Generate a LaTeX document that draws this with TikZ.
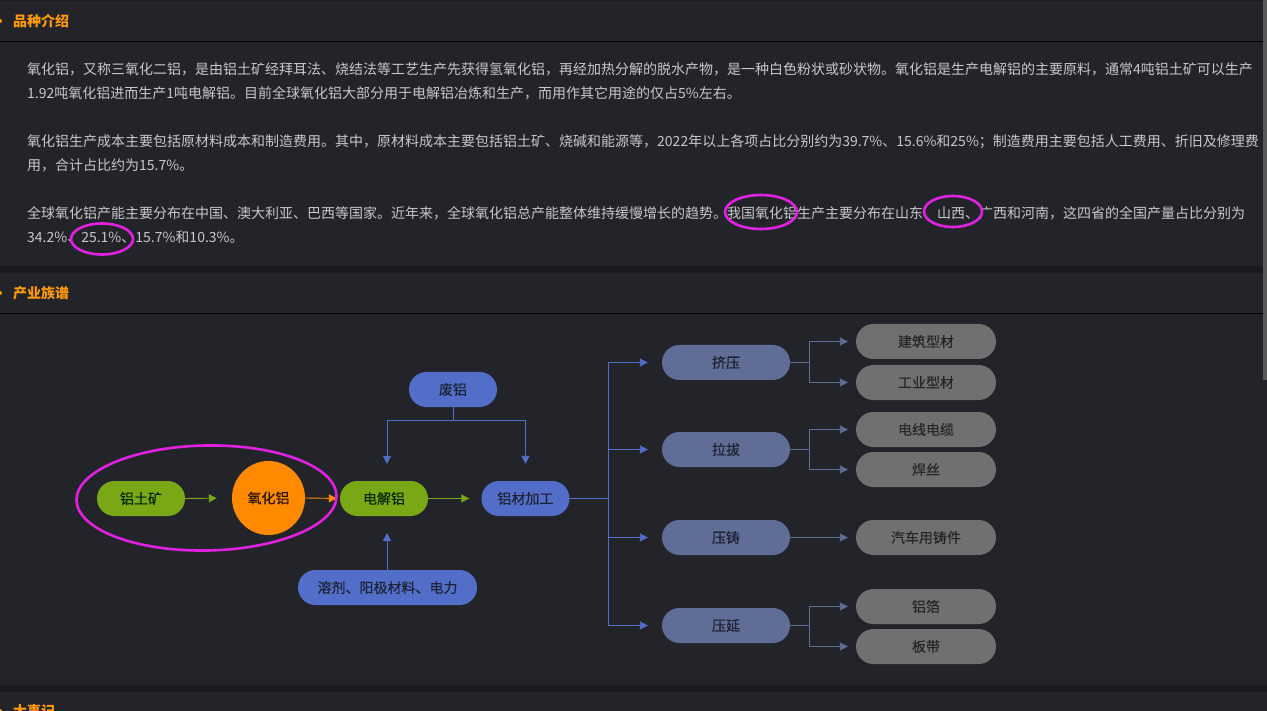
\documentclass[tikz,border=0pt]{standalone}
\usepackage{fontspec}
\setmainfont{Noto Sans CJK SC}
\newfontfamily\lblfont[FakeBold=0.25]{Noto Sans CJK SC}
\usetikzlibrary{shapes.geometric,arrows.meta}
\definecolor{bgc}{HTML}{23242A}
\definecolor{band}{HTML}{1A1B1F}
\definecolor{txt}{HTML}{C8C8C8}
\definecolor{ttl}{HTML}{FF9A0E}
\definecolor{bluen}{HTML}{526EC9}
\definecolor{dimn}{HTML}{5F6D97}
\definecolor{grayn}{HTML}{707070}
\definecolor{greenn}{HTML}{7AA716}
\definecolor{orangen}{HTML}{FF8A00}
\definecolor{mag}{HTML}{E022E0}
\definecolor{darkt}{HTML}{1C2233}
\definecolor{grayt}{HTML}{262626}
\tikzset{
 x=1pt,y=-1pt,
 para/.style={anchor=base west,inner sep=0pt,text=txt,font=\fontsize{14}{16}\selectfont},
 sect/.style={anchor=base west,inner sep=0pt,text=ttl,font=\fontsize{14}{16}\selectfont\bfseries},
 pill/.style={rounded rectangle sim,minimum height=35pt,inner sep=0pt,font=\lblfont\fontsize{14}{16}\selectfont,text=darkt},
 rounded rectangle sim/.style={rectangle,rounded corners=17.4pt},
 bluepill/.style={pill,fill=bluen,minimum width=88pt},
 greenpill/.style={pill,fill=greenn,minimum width=88pt,text=black!85!green},
 dimpill/.style={pill,fill=dimn,minimum width=128pt},
 graypill/.style={pill,fill=grayn,minimum width=140pt,text=grayt},
 ring/.style={ellipse,draw=mag,line width=2.6pt,inner sep=0pt},
 link/.style={line width=0.9pt,color=bluen},
 dimlink/.style={line width=0.9pt,color=dimn},
 tip/.style={-{Triangle[length=8pt,width=8pt]},shorten >=#1},
 tip/.default=0pt
}
\begin{document}
\begin{tikzpicture}
\useasboundingbox (0,0) rectangle (1267,711);
\fill[bgc] (0,0) rectangle (1267,711);
\fill[band] (0,266) rectangle (1263,273);
\fill[band] (0,685) rectangle (1267,692);
\draw[black,line width=0.9pt] (0,41.5) -- (1263,41.5);
\draw[black,line width=0.9pt] (0,313.5) -- (1263,313.5);
\draw[band,line width=0.9pt] (0,0.5) -- (1263,0.5);
\fill[gray!70!black] (1263,0) rectangle (1267,380);
\fill[ttl] (0,21) circle (2);
\fill[ttl] (0,293) circle (2);
\fill[ttl] (0,711) circle (2);
% headings
\node[sect] (h1) at (13,26.5) {品种介绍};
\node[sect] (h2) at (13,298.5) {产业族谱};
\node[sect] (h3) at (13,716.5) {大事记};
% paragraphs
\node[para] (p1) at (27,74.5) {氧化铝，又称三氧化二铝，是由铝土矿经拜耳法、烧结法等工艺生产先获得氢氧化铝，再经加热分解的脱水产物，是一种白色粉状或砂状物。氧化铝是生产电解铝的主要原料，通常4吨铝土矿可以生产};
\node[para] (p2) at (27,98.5) {1.92吨氧化铝进而生产1吨电解铝。目前全球氧化铝大部分用于电解铝冶炼和生产，而用作其它用途的仅占5\%左右。};
\node[para] (p3) at (27,146.5) {氧化铝生产成本主要包括原材料成本和制造费用。其中，原材料成本主要包括铝土矿、烧碱和能源等，2022年以上各项占比分别约为39.7\%、15.6\%和25\%；制造费用主要包括人工费用、折旧及修理费};
\node[para] (p4) at (27,170.5) {用，合计占比约为15.7\%。};
\node[para] (p5) at (27,218.5) {全球氧化铝产能主要分布在中国、澳大利亚、巴西等国家。近年来，全球氧化铝总产能整体维持缓慢增长的趋势。我国氧化铝生产主要分布在山东、山西、广西和河南，这四省的全国产量占比分别为};
\node[para] (p6) at (27,242.5) {34.2\%、25.1\%、15.7\%和10.3\%。};
% nodes
\node[greenpill] (bx) at (141,498.5) {铝土矿};
\node[ellipse,fill=orangen,minimum width=73pt,minimum height=74pt,inner sep=0pt,font=\lblfont\fontsize{14}{16}\selectfont,text=black!85!orange] (ox) at (268.5,498) {氧化铝};
\node[greenpill] (el) at (384,498.5) {电解铝};
\node[bluepill] (pr) at (525.5,498.5) {铝材加工};
\node[bluepill] (sc) at (453,389.5) {废铝};
\node[bluepill,minimum width=179pt] (fl) at (387.5,587.5) {溶剂、阳极材料、电力};
\node[dimpill] (m1) at (726,362.5) {挤压};
\node[dimpill] (m2) at (726,449.5) {拉拔};
\node[dimpill] (m3) at (726,537.5) {压铸};
\node[dimpill] (m4) at (726,625.5) {压延};
\node[graypill] (g1) at (926,341.5) {建筑型材};
\node[graypill] (g2) at (926,382.5) {工业型材};
\node[graypill] (g3) at (926,429.5) {电线电缆};
\node[graypill] (g4) at (926,469.5) {焊丝};
\node[graypill] (g5) at (926,537.5) {汽车用铸件};
\node[graypill] (g6) at (926,606.5) {铝箔};
\node[graypill] (g7) at (926,646.5) {板带};
% connectors
\draw[line width=0.9pt,greenn,tip=15pt] (bx.east) -- (ox.west);
\draw[line width=0.9pt,orangen,tip=3pt] (ox.east) -- (el.west);
\draw[line width=0.9pt,greenn,tip=12pt] (el.east) -- (pr.west);
\coordinate (eltop) at (387,481);
\coordinate (elbot) at (387,516);
\draw[link,tip=17pt] (sc.south) -- ++(0,13.5) -| (eltop);
\draw[link,tip=17pt] (sc.south) -- ++(0,13.5) -| (pr.north);
\draw[link,tip=17pt] (fl.north -| elbot) -- (elbot);
\coordinate (bus) at (608,498.5);
\foreach \m in {m1,m2,m3,m4}{
 \draw[link,tip=14pt] (pr.east) -- (bus) |- (\m.west);
}
\foreach \a/\b in {m1/g1,m1/g2,m2/g3,m2/g4,m4/g6,m4/g7}{
 \draw[dimlink,tip=8pt] (\a.east) -- ++(19,0) |- (\b.west);
}
\draw[dimlink,tip=8pt] (m3.east) -- (g5.west);
% highlight rings
\node[ring,minimum width=260pt,minimum height=105pt,rotate=1] (r1) at (206.5,498) {};
\node[ring,minimum width=72pt,minimum height=34pt] (r2) at (761,212) {};
\node[ring,minimum width=58pt,minimum height=31pt] (r3) at (953,211.5) {};
\node[ring,minimum width=62pt,minimum height=31pt] (r4) at (102,239) {};
\end{tikzpicture}
\end{document}
